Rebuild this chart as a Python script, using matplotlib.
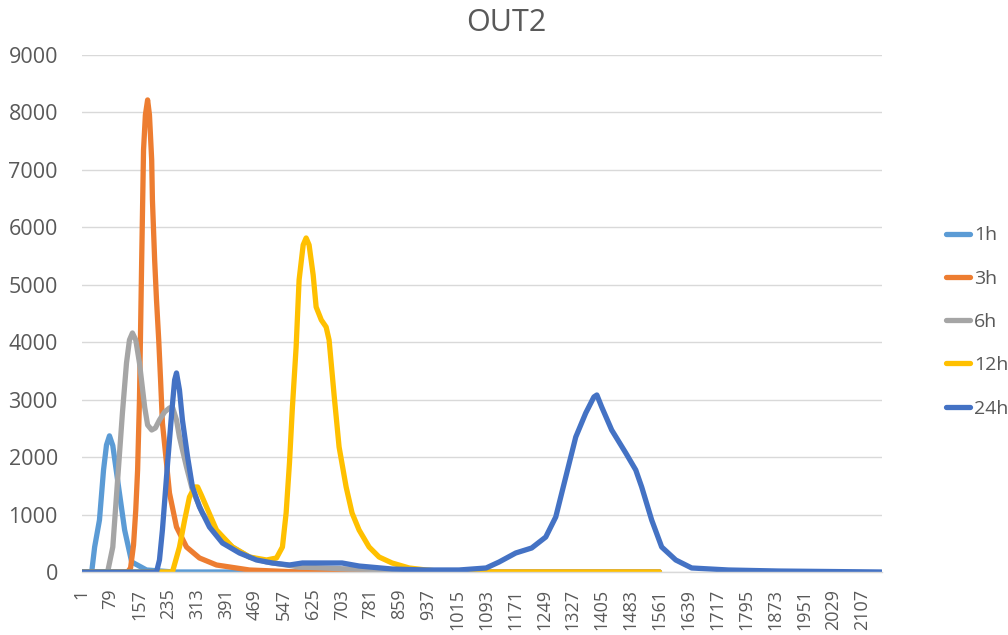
import matplotlib
matplotlib.use("Agg")
import matplotlib.pyplot as plt

# ---- data (category index, value) ----
n_categories = 2160
series_names = ["1h", "3h", "6h", "12h", "24h"]
series_colors = ["#5B9BD5", "#ED7D31", "#A5A5A5", "#FFC000", "#4472C4"]

x_1h = [1, 28, 36, 49, 60, 68, 76, 85, 98, 117, 136, 176, 250, 1561]
y_1h = [0, 0, 435, 905, 1776, 2211, 2370, 2200, 1600, 730, 175, 35, 0, 0]

x_3h = [1, 125, 133, 141, 147, 152, 157, 163, 168, 173, 179, 184, 190, 192, 198,
        203, 209, 214, 219, 230, 238, 257, 284, 319, 365, 454, 588, 1561]
y_3h = [0, 0, 70, 470, 1080, 1776, 2995, 5432, 7347, 7956, 8218, 7956, 7173, 6477,
        5432, 4736, 4039, 3343, 2594, 1898, 1375, 783, 435, 244, 122, 35, 0, 0]

x_6h = [1, 71, 85, 98, 111, 122, 130, 138, 147, 157, 171, 179, 190, 200, 211, 225,
        238, 246, 257, 265, 284, 300, 327, 365, 408, 454, 500, 589, 723, 885, 993,
        1128, 1561]
y_6h = [0, 0, 435, 1602, 2768, 3639, 4039, 4161, 4039, 3639, 2873, 2559, 2472, 2507,
        2646, 2786, 2855, 2873, 2646, 2350, 1828, 1428, 1027, 679, 435, 261, 174, 87,
        52, 35, 17, 0, 0]

x_12h = [1, 246, 265, 279, 292, 306, 314, 324, 338, 365, 408, 454, 500, 527, 543,
         553, 562, 570, 580, 588, 599, 607, 615, 626, 634, 648, 661, 669, 683, 696,
         715, 731, 750, 777, 804, 839, 885, 931, 993, 1561]
y_12h = [0, 0, 435, 905, 1306, 1480, 1480, 1340, 1132, 731, 435, 261, 209, 244, 435,
         1027, 1898, 2873, 3917, 5084, 5693, 5815, 5693, 5171, 4614, 4387, 4265, 4039,
         3047, 2176, 1480, 1027, 731, 435, 261, 157, 70, 35, 0, 0]

x_24h = [1, 203, 211, 219, 233, 244, 252, 257, 265, 273, 287, 300, 319, 346, 381,
         427, 473, 516, 562, 597, 704, 750, 839, 931, 1020, 1093, 1128, 1173, 1216,
         1254, 1281, 1308, 1335, 1362, 1384, 1392, 1405, 1432, 1470, 1497, 1513,
         1540, 1567, 1605, 1648, 1747, 1882, 2160]
y_24h = [0, 0, 209, 731, 1898, 2768, 3343, 3465, 3169, 2646, 2002, 1480, 1132, 783,
         505, 331, 209, 157, 122, 157, 157, 104, 52, 35, 35, 70, 174, 331, 418, 609,
         958, 1654, 2350, 2768, 3047, 3082, 2873, 2472, 2072, 1776, 1480, 905, 435,
         209, 70, 35, 17, 0]

y_ticks = [0, 1000, 2000, 3000, 4000, 5000, 6000, 7000, 8000, 9000]
x_tick_step = 78
title = "OUT2"

xs = [x_1h, x_3h, x_6h, x_12h, x_24h]
ys = [y_1h, y_3h, y_6h, y_12h, y_24h]

# ---- drawing ----
plt.rcParams["font.family"] = ["Open Sans", "DejaVu Sans"]
text_color = "#595959"
grid_color = "#D9D9D9"

fig = plt.figure(figsize=(10.08, 6.35), dpi=100)
ax = fig.add_axes([81.5 / 1008, 1 - 572 / 635, 800 / 1008, 517 / 635])

for xv, yv, name, col in zip(xs, ys, series_names, series_colors):
    ax.plot(xv, yv, color=col, lw=3.8, label=name,
            solid_joinstyle="round", solid_capstyle="round")

ax.set_xlim(0.5, n_categories + 0.5)
ax.set_ylim(0, 9000)
ax.set_yticks(y_ticks)
ax.set_yticklabels([str(v) for v in y_ticks])
xt = list(range(1, n_categories + 1, x_tick_step))
ax.set_xticks(xt)
ax.set_xticklabels([str(v) for v in xt], rotation=90)

ax.grid(axis="y", color=grid_color, lw=1)
ax.set_axisbelow(True)
for s in ["top", "right", "left"]:
    ax.spines[s].set_visible(False)
ax.spines["bottom"].set_color(grid_color)
ax.spines["bottom"].set_linewidth(1)

ax.tick_params(axis="y", length=0, pad=17, labelsize=15.5, labelcolor=text_color)
ax.tick_params(axis="x", length=0, pad=12, labelsize=13, labelcolor=text_color)

fig.text(506 / 1008, 1 - 23 / 635, title, ha="center", va="center",
         fontsize=22, color=text_color)

leg = fig.legend(loc="center left", bbox_to_anchor=(938 / 1008, 1 - 322 / 635),
                 frameon=False, fontsize=14, handlelength=1.25, handletextpad=0.2,
                 labelspacing=1.3, borderaxespad=0)
for t in leg.get_texts():
    t.set_color(text_color)

fig.savefig("out.png", dpi=100)
